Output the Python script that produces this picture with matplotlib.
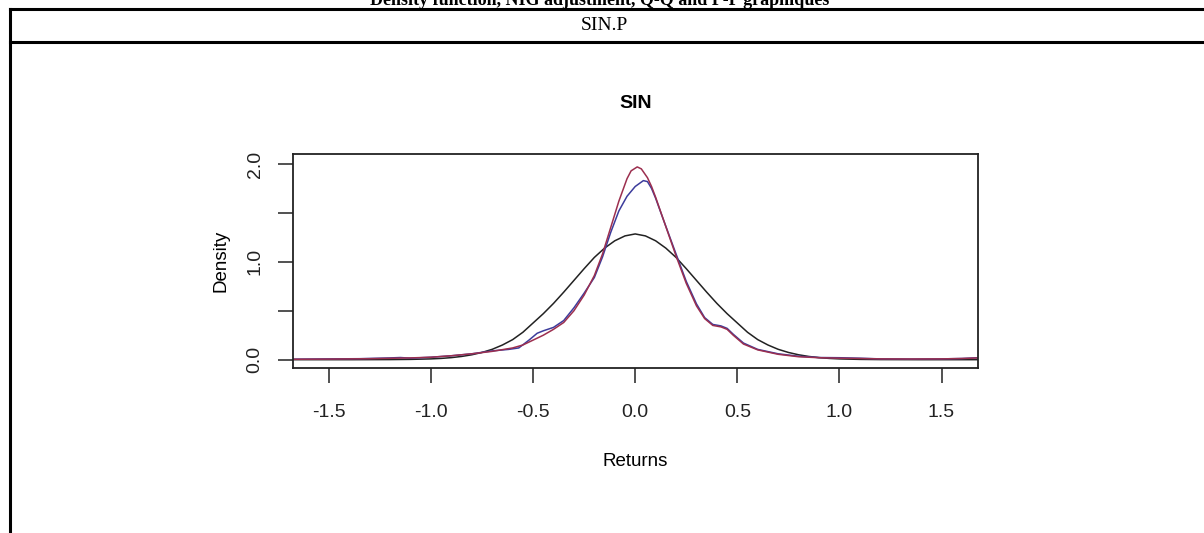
import matplotlib
matplotlib.use("Agg")
import matplotlib.pyplot as plt
from matplotlib.lines import Line2D

# values
norm_x = [-1.68, -1.4, -1.2, -1.1, -1.0, -0.95, -0.9, -0.85, -0.8, -0.75, -0.7, -0.65, -0.6, -0.55,
          -0.5, -0.45, -0.4, -0.35, -0.3, -0.25, -0.2, -0.15, -0.1, -0.05, 0.0,
          0.05, 0.1, 0.15, 0.2, 0.25, 0.3, 0.35, 0.4, 0.45, 0.5, 0.55, 0.6, 0.65, 0.7,
          0.75, 0.8, 0.85, 0.9, 0.95, 1.0, 1.1, 1.2, 1.4, 1.68]
norm_y = [0.0, 0.0, 0.001, 0.003, 0.008, 0.013, 0.021, 0.033, 0.05, 0.074, 0.106, 0.15, 0.205,
          0.28, 0.375, 0.47, 0.575, 0.69, 0.81, 0.93, 1.045, 1.14, 1.215, 1.265, 1.285,
          1.265, 1.215, 1.14, 1.045, 0.93, 0.81, 0.69, 0.575, 0.47, 0.375, 0.28, 0.205,
          0.15, 0.106, 0.074, 0.05, 0.033, 0.021, 0.013, 0.008, 0.003, 0.001, 0.0, 0.0]

emp_x = [-1.68, -1.5, -1.35, -1.2, -1.15, -1.1, -1.0, -0.9, -0.8, -0.7, -0.62, -0.57, -0.52,
         -0.48, -0.45, -0.4, -0.35, -0.3, -0.25, -0.2, -0.16, -0.12, -0.08, -0.04, 0.0, 0.04,
         0.06, 0.08, 0.1, 0.14, 0.2, 0.25, 0.3, 0.34, 0.38, 0.42, 0.45, 0.48, 0.53, 0.6, 0.7,
         0.8, 0.9, 1.0, 1.1, 1.2, 1.35, 1.5, 1.6, 1.68]
emp_y = [0.005, 0.008, 0.01, 0.018, 0.022, 0.015, 0.025, 0.04, 0.06, 0.09, 0.105, 0.12, 0.2,
         0.27, 0.295, 0.33, 0.4, 0.53, 0.68, 0.84, 1.05, 1.3, 1.52, 1.67, 1.77, 1.83,
         1.82, 1.75, 1.65, 1.42, 1.08, 0.8, 0.57, 0.43, 0.36, 0.345, 0.32, 0.26, 0.17, 0.105, 0.06,
         0.035, 0.022, 0.02, 0.015, 0.008, 0.006, 0.008, 0.012, 0.02]

nig_x = [-1.68, -1.5, -1.3, -1.1, -1.0, -0.9, -0.8, -0.7, -0.6, -0.55, -0.5, -0.45, -0.4, -0.35,
         -0.3, -0.25, -0.2, -0.16, -0.12, -0.08, -0.04, -0.02, 0.01, 0.03, 0.06, 0.08, 0.1, 0.14,
         0.2, 0.25, 0.3, 0.34, 0.38, 0.42, 0.45, 0.48, 0.53, 0.6, 0.7, 0.8, 0.9, 1.0, 1.1, 1.2,
         1.35, 1.5, 1.6, 1.68]
nig_y = [0.004, 0.006, 0.01, 0.018, 0.025, 0.04, 0.06, 0.085, 0.12, 0.15, 0.2, 0.25, 0.31, 0.38,
         0.5, 0.66, 0.86, 1.08, 1.35, 1.62, 1.85, 1.93, 1.97, 1.95, 1.86, 1.77, 1.66, 1.42,
         1.06, 0.78, 0.55, 0.42, 0.35, 0.335, 0.31, 0.25, 0.16, 0.10, 0.055, 0.03, 0.02, 0.015,
         0.012, 0.008, 0.007, 0.008, 0.012, 0.018]

x_ticks = [-1.5, -1.0, -0.5, 0.0, 0.5, 1.0, 1.5]
y_ticks = [0.0, 0.5, 1.0, 1.5, 2.0]
y_labels = ["0.0", "", "1.0", "", "2.0"]

W, H = 1204, 533
fig = plt.figure(figsize=(W / 100, H / 100), dpi=100)
fig.patch.set_facecolor("white")

# table frame around the chart
lw = 2.2
fig.add_artist(Line2D([10 / W, 1.0], [1 - 9 / H, 1 - 9 / H], color="black", lw=lw))
fig.add_artist(Line2D([10 / W, 1.0], [1 - 42 / H, 1 - 42 / H], color="black", lw=lw))
fig.add_artist(Line2D([10 / W, 10 / W], [0.0, 1 - 9 / H], color="black", lw=lw))

fig.text(600 / W, 1 - 5 / H, "Density function, NIG adjustment, Q-Q and P-P graphiques",
         ha="center", va="baseline", family="Liberation Serif", weight="bold", fontsize=13)
fig.text(604 / W, 1 - 25 / H, "SIN.P", ha="center", va="center",
         family="Liberation Serif", fontsize=14)

ax = fig.add_axes([292.7 / W, 1 - 367.7 / H, 685 / W, 213.7 / H])
ax.plot(norm_x, norm_y, color="#222222", lw=1.1)
ax.plot(emp_x, emp_y, color="#3c3c9c", lw=1.1)
ax.plot(nig_x, nig_y, color="#9c2f4f", lw=1.1)

ax.set_xlim(-1.677, 1.677)
ax.set_ylim(-0.082, 2.102)
ax.set_xticks(x_ticks)
ax.set_xticklabels([f"{v:.1f}" for v in x_ticks], family="Liberation Sans", fontsize=14, color="#222222")
ax.set_yticks(y_ticks)
ax.set_yticklabels(y_labels, family="Liberation Sans", fontsize=14, color="#222222",
                   rotation=90, va="center")
ax.tick_params(direction="out", length=11, width=1.1, pad=15, colors="#222222")
ax.tick_params(axis="y", pad=10)
for s in ax.spines.values():
    s.set_linewidth(1.3)
    s.set_color("#222222")

ax.set_title("SIN", family="Liberation Sans", weight="bold", fontsize=14, pad=33)
ax.set_xlabel("Returns", family="Liberation Sans", fontsize=13.5, labelpad=23)
ax.set_ylabel("Density", family="Liberation Sans", fontsize=13.5, labelpad=12)

fig.savefig("out.png", dpi=100, facecolor="white")
